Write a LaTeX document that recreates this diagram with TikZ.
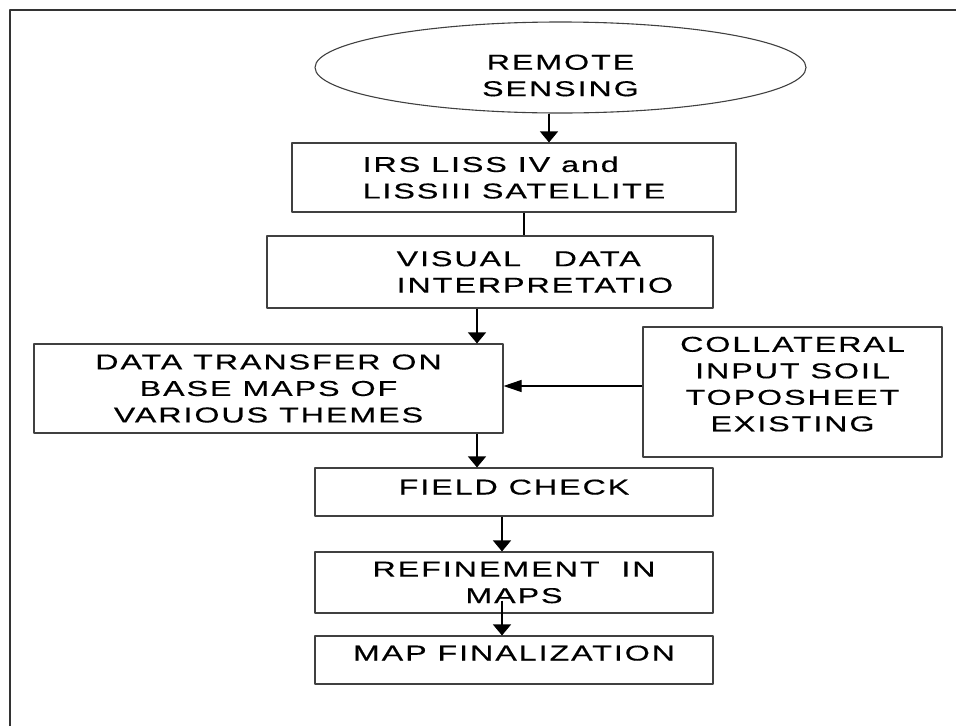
\documentclass[tikz,border=0pt]{standalone}
\usepackage{fontspec}
\setmainfont{Liberation Sans}[FakeStretch=1.5, LetterSpace=9, FakeBold=0.4]
\usetikzlibrary{shapes.geometric,arrows.meta}
\begin{document}
\begin{tikzpicture}[x=1pt, y=-1pt, font=\fontsize{21.5}{26.5}\selectfont, line join=round,
  >={Triangle[width=18pt,length=11pt]},
  box/.style={draw=black!75, line width=1.1pt, rectangle, inner sep=0pt, align=center},
  flow/.style={->, line width=1.1pt}]
\def\w{956} \def\h{726}
\useasboundingbox (0,0) rectangle (\w,\h);
\draw[line width=1.1pt, black!80] (10,\h)--(10,10)--(\w,10);
\node[box, ellipse, minimum width=491pt, minimum height=91pt,
  label={[align=center, inner sep=0pt, yshift=-8pt]center:{REMOTE\\SENSING}}] (rs) at (560.5,67.5) {};
\node[box, minimum width=444pt, minimum height=69pt, align=left] (irs) at (514,177.5) {IRS LISS IV and\\LISSIII SATELLITE};
\node[box, minimum width=446pt, minimum height=72pt,
  label={[anchor=west, align=left, inner sep=0pt, xshift=130pt]west:{VISUAL~~~DATA\\INTERPRETATIO}}] (vis) at (490,272) {};
\node[box, minimum width=469pt, minimum height=89pt] (data) at (268.5,388.5) {DATA TRANSFER ON\\BASE MAPS OF\\VARIOUS THEMES};
\node[box, minimum width=299pt, minimum height=130pt, text depth=16pt] (coll) at (792.5,392) {COLLATERAL\\INPUT SOIL\\TOPOSHEET\\EXISTING};
\node[box, minimum width=398pt, minimum height=48pt, text depth=10pt] (field) at (514,492) {FIELD CHECK};
\node[box, minimum width=398pt, minimum height=61pt] (ref) at (514,582.5) {REFINEMENT~~IN\\MAPS};
\node[box, minimum width=398pt, minimum height=48pt, text depth=14pt] (map) at (514,660) {MAP FINALIZATION};
\draw[flow] (rs.south -| 549,0) -- (irs.north -| 549,0);
\draw[line width=1.1pt] (irs.south -| 524,0) -- (vis.north -| 524,0);
\draw[flow] (vis.south -| 477,0) -- (data.north -| 477,0);
\draw[flow, -{Triangle[width=12pt,length=18pt]}] (coll.west |- 0,386) -- (data.east |- 0,386);
\draw[flow] (data.south -| 477,0) -- (field.north -| 477,0);
\draw[flow] (field.south -| 502,0) -- (ref.north -| 502,0);
\draw[flow] ([yshift=13pt]ref.south -| 502,0) -- (map.north -| 502,0);
\end{tikzpicture}
\end{document}
